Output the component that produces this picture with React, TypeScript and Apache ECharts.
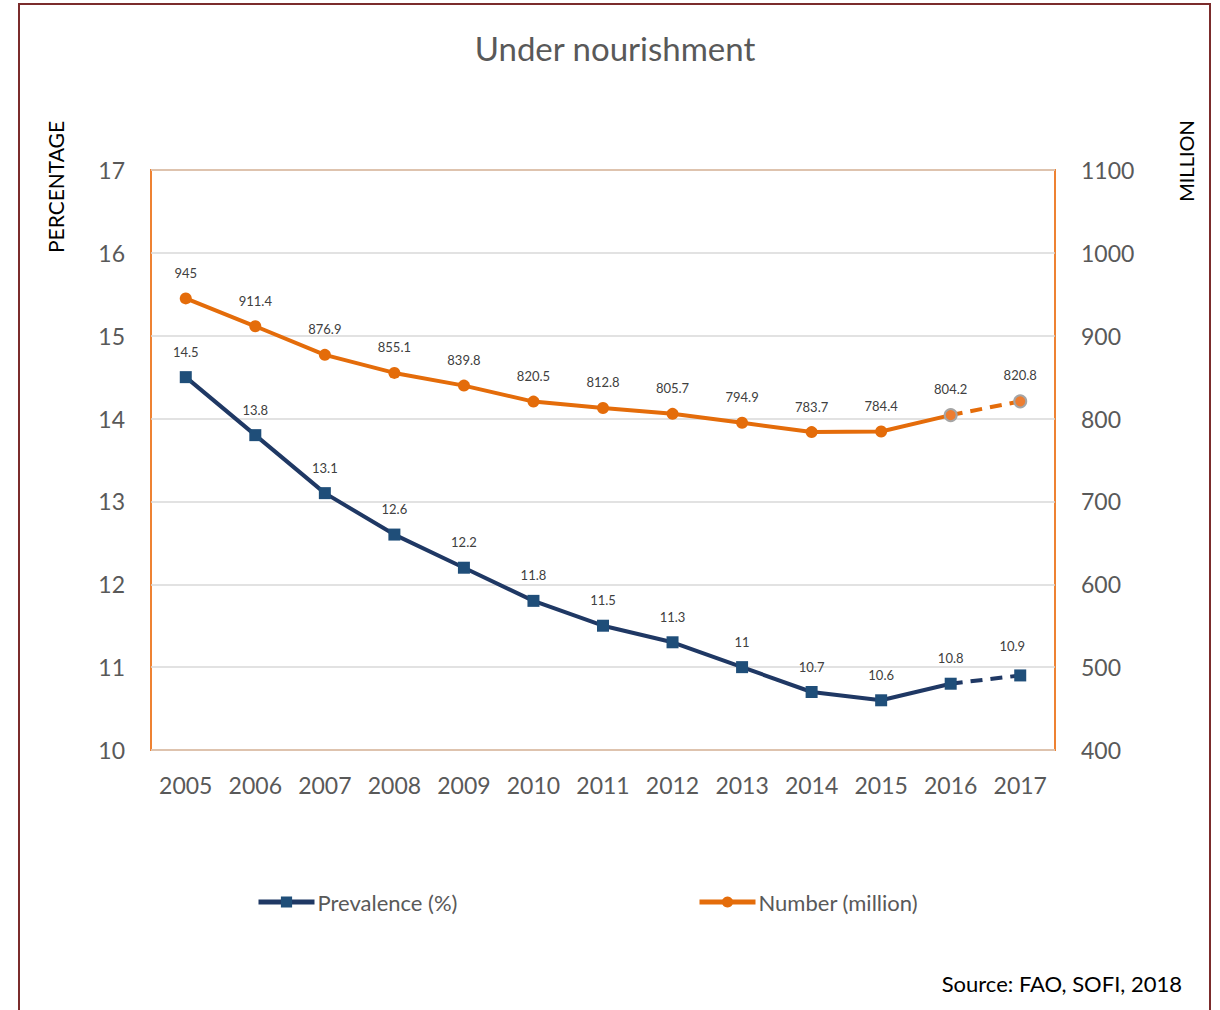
import React, { useEffect, useRef } from "react";
import * as echarts from "echarts";

const years = ["2005", "2006", "2007", "2008", "2009", "2010", "2011", "2012", "2013", "2014", "2015", "2016", "2017"];
const prevalence = [14.5, 13.8, 13.1, 12.6, 12.2, 11.8, 11.5, 11.3, 11, 10.7, 10.6, 10.8, 10.9];
const number = [945, 911.4, 876.9, 855.1, 839.8, 820.5, 812.8, 805.7, 794.9, 783.7, 784.4, 804.2, 820.8];
const projectedFrom = 11; // 2016 -> 2017 dashed

const FONT = "Lato, 'Open Sans', sans-serif";
const BLUE_LINE = "#1F3864";
const BLUE_MARK = "#1F4E79";
const ORANGE = "#E46C0A";
const ORANGE_MARK = "#ED7D31";
const GRAY_TEXT = "#595959";
const LABEL_TEXT = "#404040";

export default function App() {
  const ref = useRef<HTMLDivElement>(null);

  useEffect(() => {
    if (!ref.current) return;
    const chart = echarts.init(ref.current, null, { renderer: "svg" });

    const solid = (vals: number[], isOrange: boolean) =>
      vals.map((v, i) => {
        if (i > projectedFrom) return null;
        if (isOrange && i === projectedFrom) {
          return { value: v, itemStyle: { color: ORANGE_MARK, borderColor: "#A5A5A5", borderWidth: 2 } };
        }
        return v;
      });
    const dashed = (vals: number[], isOrange: boolean) =>
      vals.map((v, i) => {
        if (i < projectedFrom) return null;
        if (i === projectedFrom) return { value: v, symbol: "none", label: { show: false } };
        const item: any = { value: v };
        if (isOrange) item.itemStyle = { color: ORANGE_MARK, borderColor: "#A5A5A5", borderWidth: 2 };
        else item.label = { offset: [-8, -4] };
        return item;
      });

    const labelCfg = {
      show: true,
      position: "top" as const,
      distance: 13,
      fontSize: 13,
      color: LABEL_TEXT,
      fontFamily: FONT,
    };

    const legendText = { fontSize: 22, color: GRAY_TEXT, fontFamily: FONT, padding: [0, 0, 0, -2] };

    const option: any = {
      animation: false,
      backgroundColor: "#ffffff",
      textStyle: { fontFamily: FONT },
      grid: {
        left: 151,
        right: 165,
        top: 170,
        bottom: 260,
        show: true,
        borderColor: "#EE8233",
        borderWidth: 2,
        backgroundColor: "transparent",
      },
      legend: [
        {
          data: ["Prevalence (%)"],
          left: 251,
          top: 886,
          itemWidth: 56,
          itemHeight: 14,
          lineStyle: { width: 5 },
          textStyle: legendText,
        },
        {
          data: ["Number (million)"],
          left: 692,
          top: 886,
          itemWidth: 56,
          itemHeight: 14,
          lineStyle: { width: 5 },
          textStyle: legendText,
        },
      ],
      xAxis: {
        type: "category",
        data: years,
        boundaryGap: true,
        axisLine: { show: false },
        axisTick: { show: false },
        axisLabel: { fontSize: 23, color: GRAY_TEXT, margin: 23, fontFamily: FONT },
      },
      yAxis: [
        {
          type: "value",
          min: 10,
          max: 17,
          interval: 1,
          position: "left",
          axisLine: { show: false },
          axisTick: { show: false },
          axisLabel: { fontSize: 23, color: GRAY_TEXT, margin: 26, fontFamily: FONT },
          splitLine: { show: true, lineStyle: { color: "#D9D9D9", width: 1.5 } },
        },
        {
          type: "value",
          min: 400,
          max: 1100,
          interval: 100,
          position: "right",
          axisLine: { show: false },
          axisTick: { show: false },
          axisLabel: {
            fontSize: 23,
            color: GRAY_TEXT,
            margin: 26,
            fontFamily: FONT,
            formatter: (v: number) => String(v),
          },
          splitLine: { show: false },
        },
      ],
      series: [
        {
          name: "Prevalence (%)",
          type: "line",
          yAxisIndex: 0,
          data: solid(prevalence, false),
          symbol: "rect",
          symbolSize: 12,
          itemStyle: { color: BLUE_MARK },
          lineStyle: { color: BLUE_LINE, width: 4 },
          label: labelCfg,
          z: 3,
        },
        {
          name: "Prevalence (%)",
          type: "line",
          yAxisIndex: 0,
          data: dashed(prevalence, false),
          symbol: "rect",
          symbolSize: 12,
          itemStyle: { color: BLUE_MARK },
          lineStyle: { color: BLUE_LINE, width: 4, type: [12, 8] },
          label: labelCfg,
          z: 3,
        },
        {
          name: "Number (million)",
          type: "line",
          yAxisIndex: 1,
          data: solid(number, true),
          symbol: "circle",
          symbolSize: 12,
          itemStyle: { color: ORANGE },
          lineStyle: { color: ORANGE, width: 4 },
          label: labelCfg,
          z: 3,
        },
        {
          name: "Number (million)",
          type: "line",
          yAxisIndex: 1,
          data: dashed(number, true),
          symbol: "circle",
          symbolSize: 12,
          itemStyle: { color: ORANGE },
          lineStyle: { color: ORANGE, width: 4, type: [12, 8] },
          label: labelCfg,
          z: 3,
        },
      ],
      graphic: [
        {
          type: "rect",
          shape: { x: 19, y: 4, width: 1191, height: 1030 },
          style: { fill: "none", stroke: "#7B2C2C", lineWidth: 2 },
          silent: true,
        },
        {
          type: "text",
          x: 615,
          y: 48,
          style: {
            text: "Under nourishment",
            fontSize: 33,
            fill: GRAY_TEXT,
            fontFamily: FONT,
            textAlign: "center",
            textVerticalAlign: "middle",
          },
        },
        {
          type: "text",
          x: 55,
          y: 187,
          rotation: Math.PI / 2,
          style: {
            text: "PERCENTAGE",
            fontSize: 21,
            fill: "#000000",
            fontFamily: FONT,
            textAlign: "center",
            textVerticalAlign: "middle",
          },
        },
        {
          type: "text",
          x: 1186,
          y: 161,
          rotation: Math.PI / 2,
          style: {
            text: "MILLION",
            fontSize: 20,
            fill: "#000000",
            fontFamily: FONT,
            textAlign: "center",
            textVerticalAlign: "middle",
          },
        },
        {
          type: "text",
          x: 1182,
          y: 983,
          style: {
            text: "Source: FAO, SOFI, 2018",
            fontSize: 22,
            fill: "#000000",
            fontFamily: FONT,
            textAlign: "right",
            textVerticalAlign: "middle",
          },
        },
      ],
    };

    chart.setOption(option);
    return () => chart.dispose();
  }, []);

  return (
    <div
      ref={ref}
      style={{ position: "absolute", left: 0, top: 0, width: 1220, height: 1010 }}
    />
  );
}
